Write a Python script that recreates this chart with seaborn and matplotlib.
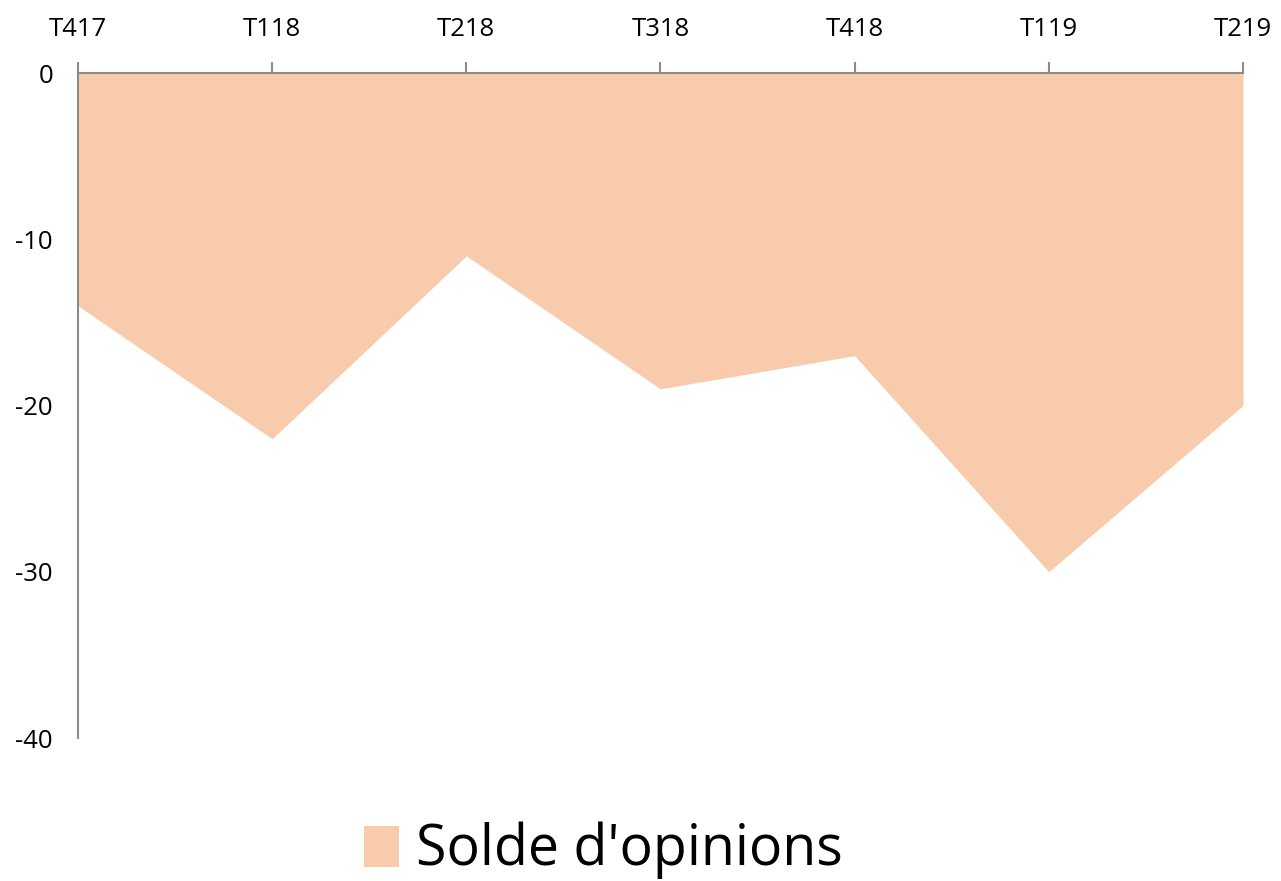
import matplotlib
matplotlib.use("Agg")
import matplotlib.pyplot as plt
import seaborn as sns

# quarters and opinion balance
quarters = ["T417", "T118", "T218", "T318", "T418", "T119", "T219"]
solde = [-14, -22, -11, -19, -17, -30, -20]
yticks = [0, -10, -20, -30, -40]

sns.set_style("white")
plt.rcParams['font.family'] = ['Liberation Sans Narrow', 'Open Sans', 'DejaVu Sans']
plt.rcParams['text.color'] = 'black'

fig = plt.figure(figsize=(12.81, 8.81), dpi=100)
ax = fig.add_axes([0.0609, 0.1623, 0.9094, 0.7548])

x = list(range(len(quarters)))
ax.fill_between(x, solde, 0, color="#F8CBAD", linewidth=0, label="Solde d'opinions")

ax.set_xlim(0, len(quarters) - 1)
ax.set_ylim(-40, 0)
ax.xaxis.tick_top()
ax.set_xticks(x)
ax.set_xticklabels(quarters, fontsize=18.5, color='black')
ax.set_yticks(yticks)
ax.set_yticklabels([str(v) for v in yticks], fontsize=18.5, color='black')
ax.tick_params(axis='x', direction='out', length=8, width=1.5, color='#8c8c8c', pad=14, top=True, bottom=False)
ax.tick_params(axis='y', length=0, pad=18)

for s in ['right', 'bottom']:
    ax.spines[s].set_visible(False)
for s in ['top', 'left']:
    ax.spines[s].set_color('#8c8c8c')
    ax.spines[s].set_linewidth(1.5)

fig.legend(loc='lower center', bbox_to_anchor=(0.471, -0.055), frameon=False, fontsize=40,
           handlelength=0.62, handleheight=0.76, handletextpad=0.3, labelcolor='black')

fig.savefig("out.png", dpi=100)
